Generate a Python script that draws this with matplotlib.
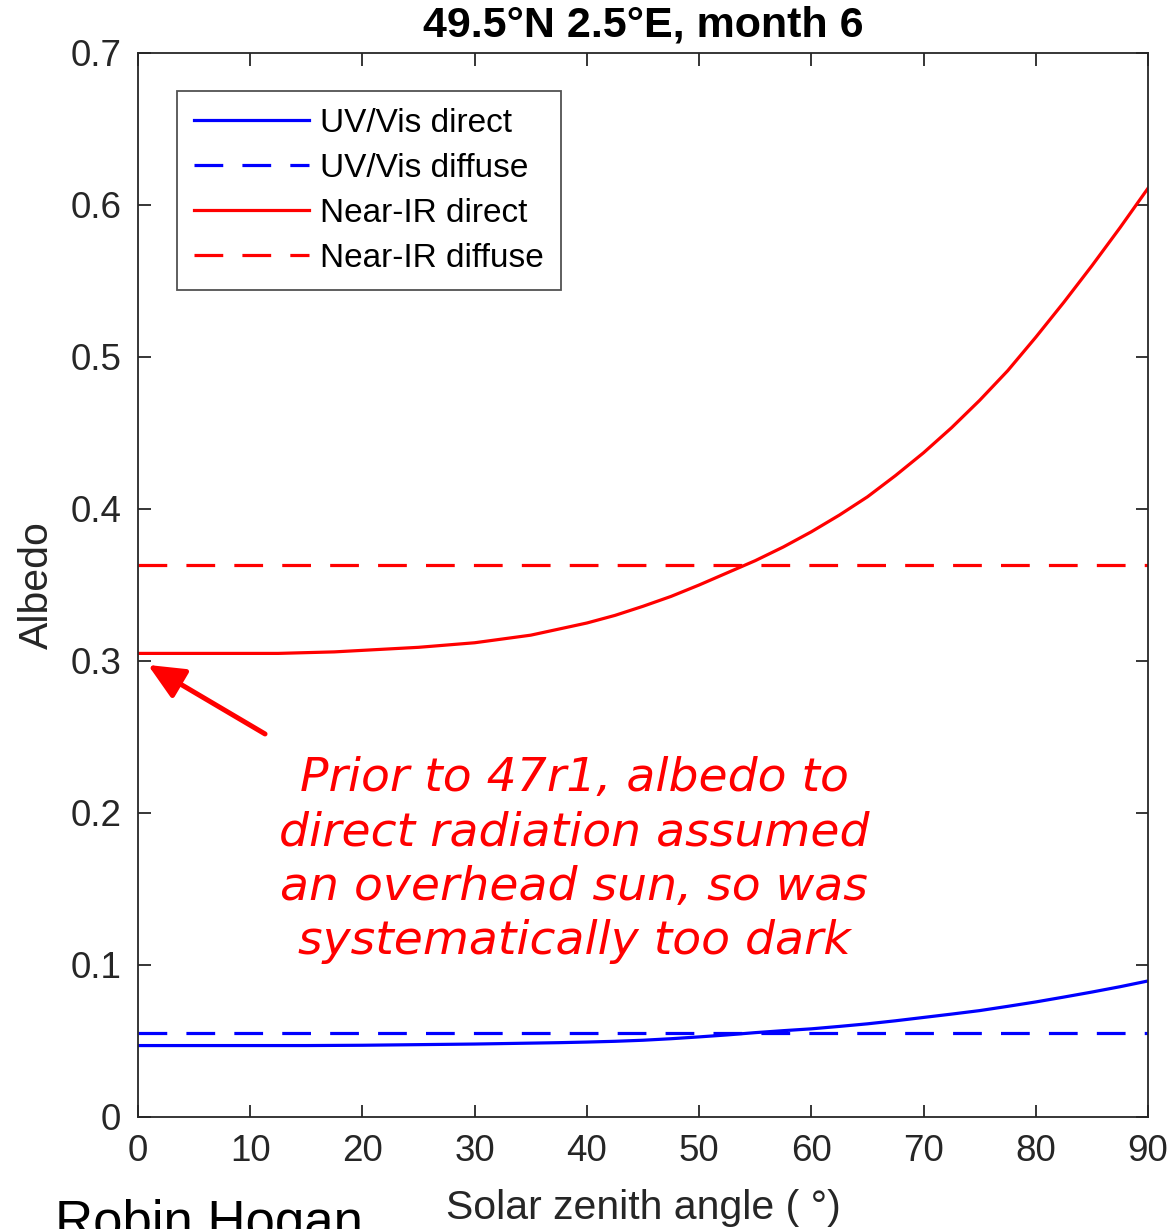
import matplotlib
matplotlib.use("Agg")
import matplotlib.pyplot as plt

plt.rcParams['font.family'] = ['Liberation Sans', 'DejaVu Sans']

# Data (solar zenith angle in degrees)
sza = [0, 2.5, 5, 7.5, 10, 12.5, 15, 17.5, 20, 22.5, 25, 27.5, 30, 32.5, 35, 37.5,
       40, 42.5, 45, 47.5, 50, 52.5, 55, 57.5, 60, 62.5, 65, 67.5, 70, 72.5, 75,
       77.5, 80, 82.5, 85, 87.5, 90]
nir_direct = [0.305, 0.305, 0.305, 0.305, 0.305, 0.305, 0.3055, 0.306, 0.307, 0.308,
              0.309, 0.3105, 0.312, 0.3145, 0.317, 0.321, 0.325, 0.330, 0.336, 0.3425,
              0.350, 0.358, 0.366, 0.375, 0.385, 0.396, 0.408, 0.422, 0.437, 0.4535,
              0.4715, 0.491, 0.513, 0.536, 0.560, 0.585, 0.611]
uv_direct = [0.047, 0.047, 0.047, 0.047, 0.047, 0.047, 0.047, 0.0471, 0.0472, 0.0474,
             0.0476, 0.0478, 0.048, 0.0483, 0.0486, 0.0489, 0.0493, 0.0498, 0.0505,
             0.0515, 0.0527, 0.054, 0.0555, 0.0568, 0.058, 0.0596, 0.0613, 0.0633,
             0.0655, 0.0677, 0.070, 0.0728, 0.0757, 0.0789, 0.0822, 0.0857, 0.0895]
nir_diffuse = 0.363
uv_diffuse = 0.0553

title = "49.5°N 2.5°E, month 6"
xlabel = "Solar zenith angle ( °)"
ylabel = "Albedo"
labels = ["UV/Vis direct", "UV/Vis diffuse", "Near-IR direct", "Near-IR diffuse"]
note = ("Prior to 47r1, albedo to\ndirect radiation assumed\n"
        "an overhead sun, so was\nsystematically too dark")
author = "Robin Hogan"
xticks = [0, 10, 20, 30, 40, 50, 60, 70, 80, 90]
yticks = [0, 0.1, 0.2, 0.3, 0.4, 0.5, 0.6, 0.7]
ytick_labels = ["0", "0.1", "0.2", "0.3", "0.4", "0.5", "0.6", "0.7"]

W, H = 1170, 1229
fig = plt.figure(figsize=(W / 100, H / 100), dpi=100)
ax = fig.add_axes([138 / W, 1 - 1117 / H, (1148 - 138) / W, (1117 - 53) / H])

gray = '#262626'
lw = 2.3
dash = (9, 6)
ax.plot(sza, uv_direct, color='#0000ff', lw=lw, label=labels[0])
ax.plot([sza[0], sza[-1]], [uv_diffuse, uv_diffuse], color='#0000ff', lw=lw,
        dashes=dash, label=labels[1])
ax.plot(sza, nir_direct, color='#ff0000', lw=lw, label=labels[2])
ax.plot([sza[0], sza[-1]], [nir_diffuse, nir_diffuse], color='#ff0000', lw=lw,
        dashes=dash, label=labels[3])

ax.set_xlim(0, 90)
ax.set_ylim(0, 0.7)
ax.set_xticks(xticks)
ax.set_yticks(yticks)
ax.set_yticklabels(ytick_labels)
ax.tick_params(direction='in', length=9, width=1.3, colors=gray, labelsize=26.5,
               top=True, right=True, pad=12)
for s in ax.spines.values():
    s.set_color(gray)
    s.set_linewidth(1.3)

ax.set_title(title, fontsize=31, fontweight='bold', pad=12)
ax.set_xlabel(xlabel, fontsize=29.5, color=gray)
ax.set_ylabel(ylabel, fontsize=29.5, color=gray)
ax.xaxis.set_label_coords(0.5, -0.068)
ax.yaxis.set_label_coords(-0.081, 0.5)

leg = ax.legend(loc='upper left', bbox_to_anchor=((177 - 138) / 1010, (1117 - 91) / 1064),
                borderaxespad=0, fontsize=24, handlelength=3.45, handletextpad=0.35,
                labelspacing=0.42, frameon=True, fancybox=False, edgecolor=gray,
                borderpad=0.5)
leg.get_frame().set_linewidth(1.3)

ax.text(0.4317, 0.2415, note, transform=ax.transAxes, ha='center', va='center',
        color='#ff0000', fontsize=34, fontstyle='italic', family='DejaVu Sans',
        linespacing=1.27)

ax.annotate("", xy=(0.89, 0.2974), xytext=(11.32, 0.2520),
            arrowprops=dict(arrowstyle='-|>,head_length=2.2,head_width=1.0',
                            color='#ff0000', lw=3.6, shrinkA=0, shrinkB=0))

fig.text(55 / W, 1 - 1238 / H, author, fontsize=38, color='black',
         ha='left', va='baseline')

fig.savefig("out.png", dpi=100)
